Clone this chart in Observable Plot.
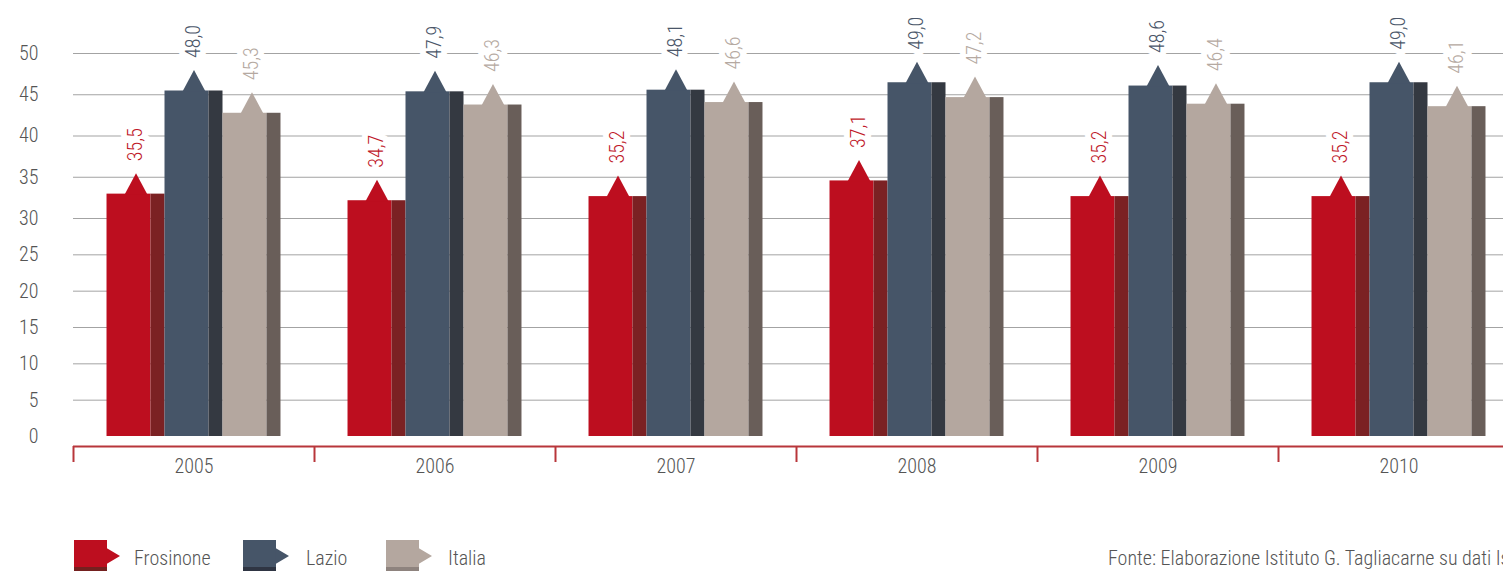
<!DOCTYPE html>
<html>
<head>
<meta charset="utf-8">
<script src="https://cdn.jsdelivr.net/npm/d3@7"></script>
<script src="https://cdn.jsdelivr.net/npm/@observablehq/plot@0.6"></script>
<style>
html, body { margin: 0; padding: 0; background: #fff; overflow: hidden; width: 1503px; height: 571px; }
body { position: relative; font-family: "Roboto Condensed", "Liberation Sans Narrow", "DejaVu Sans Condensed", sans-serif; font-weight: 300; }
#chart svg { max-width: none !important; display: block; }
.swatch { position: absolute; top: 540px; }
.legend-label { position: absolute; top: 547px; font-size: 20px; line-height: 22px; color: #555; white-space: nowrap; }
#source { position: absolute; left: 1108px; top: 547px; font-size: 20px; line-height: 22px; color: #555; white-space: nowrap; }
</style>
</head>
<body>
<div id="chart"></div>
<div id="legend"></div>
<div id="source"></div>
<script>
// ---- data ----
const years = ["2005", "2006", "2007", "2008", "2009", "2010"];
const series = ["Frosinone", "Lazio", "Italia"];
const frosinone = [35.5, 34.7, 35.2, 37.1, 35.2, 35.2];
const lazio = [48.0, 47.9, 48.1, 49.0, 48.6, 49.0];
const italia = [45.3, 46.3, 46.6, 47.2, 46.4, 46.1];
const yTicks = [0, 5, 10, 15, 20, 25, 30, 35, 40, 45, 50];
const sourceText = "Fonte: Elaborazione Istituto G. Tagliacarne su dati Istat";

// ---- styles ----
const bodyColors = ["#bd0e1f", "#465568", "#b4a79f"];
const sideColors = ["#7b2123", "#343941", "#695e59"];
const labelColors = ["#c0192a", "#4a5669", "#b5a9a1"];
const legendSideColors = ["#74201f", "#2f3543", "#8e837e"];
const red = "#b8363b";
const font = '"Roboto Condensed", "Liberation Sans Narrow", "DejaVu Sans Condensed", sans-serif';

const values = [frosinone, lazio, italia];
const rows = years.flatMap((year, i) => series.map((s, j) => ({year, series: s, value: values[j][i]})));
const fmt = v => v.toFixed(1).replace(".", ",");

// arrow-head on top of each bar (tip at the value)
const peak = {
  draw(ctx) {
    ctx.moveTo(0, 0);
    ctx.lineTo(11.5, 21.5);
    ctx.lineTo(-11.5, 21.5);
    ctx.closePath();
  }
};

const marks = [
  Plot.ruleY(yTicks.filter(t => t > 0), {stroke: "#a3a3a3", strokeWidth: 1}),
  Plot.ruleY([0], {dy: 10, stroke: red, strokeWidth: 2}),
  Plot.ruleX([null], {x: null, y1: 0, y2: 0, dy: 10, insetBottom: -16, dx: -120.5, stroke: red, strokeWidth: 2})
];

series.forEach((s, j) => {
  const base = {filter: d => d.series === s, x: "series", y: "value"};
  marks.push(Plot.barY(rows, {...base, fill: bodyColors[j], insetTop: 21, insetRight: 14}));
  marks.push(Plot.barY(rows, {...base, fill: sideColors[j], insetTop: 21, insetLeft: 44}));
  marks.push(Plot.dot(rows, {...base, symbol: peak, fill: bodyColors[j], stroke: null}));
});
series.forEach((s, j) => {
  marks.push(Plot.text(rows, {
    filter: d => d.series === s, x: "series", y: "value",
    text: d => fmt(d.value), rotate: -90, textAnchor: "start", dy: -12,
    fill: labelColors[j], stroke: "white", strokeWidth: 12, fontSize: 20
  }));
});

const chart = Plot.plot({
  width: 1519,
  height: 490,
  marginLeft: 73,
  marginRight: 0,
  marginTop: 0,
  marginBottom: 54,
  style: {fontFamily: font, fontSize: "20px", fontWeight: 300, color: "#555", background: "white"},
  facet: {data: rows, x: "year"},
  fx: {domain: years, padding: 0, round: false, axis: "bottom", tickSize: 0, tickPadding: 22, label: null},
  x: {domain: series, paddingInner: 0, paddingOuter: 0.578, round: false, axis: null},
  y: {type: "linear", domain: [0, 30, 50], range: [436, 218, 53], ticks: yTicks, tickSize: 0, tickPadding: 35, label: null},
  marks
});
document.getElementById("chart").appendChild(chart);

// ---- legend ----
const swatchX = [74, 243, 386];
const labelX = [134, 306, 448];
const legend = document.getElementById("legend");
series.forEach((s, j) => {
  const sw = document.createElement("div");
  sw.className = "swatch";
  sw.style.left = swatchX[j] + "px";
  sw.innerHTML = `<svg width="47" height="31" viewBox="0 0 47 31">
    <rect x="0" y="0" width="33" height="27" fill="${bodyColors[j]}"/>
    <rect x="0" y="27" width="33" height="4" fill="${legendSideColors[j]}"/>
    <path d="M32.5,8 L46,16 L32.5,24 Z" fill="${bodyColors[j]}"/>
  </svg>`;
  legend.appendChild(sw);
  const lb = document.createElement("div");
  lb.className = "legend-label";
  lb.style.left = labelX[j] + "px";
  lb.textContent = s;
  legend.appendChild(lb);
});
document.getElementById("source").textContent = sourceText;
</script>
</body>
</html>
